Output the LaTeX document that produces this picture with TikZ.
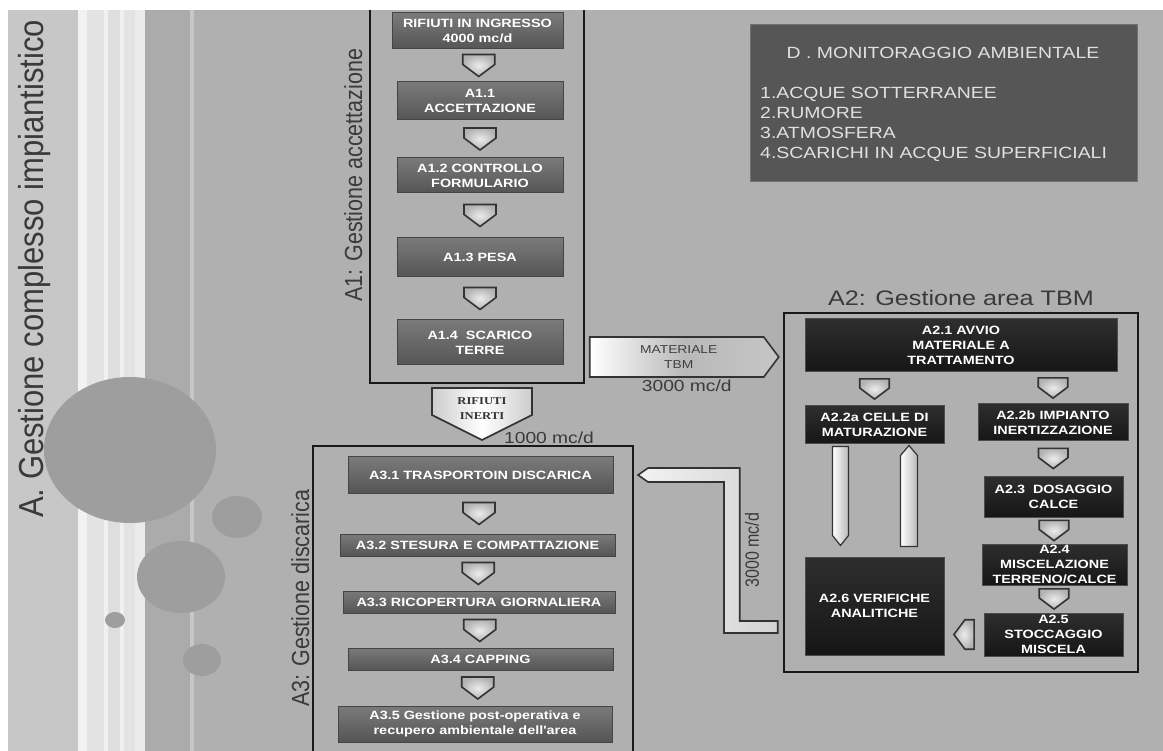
\documentclass[tikz,border=0pt]{standalone}
\usepackage{graphicx}
\usepackage{fontspec}
\setmainfont{Liberation Sans}
\newfontfamily\wsans{Liberation Sans}[FakeStretch=1.2]
\newfontfamily\wserif{Liberation Serif}[FakeStretch=1.2]
\usetikzlibrary{calc}

\definecolor{sfondo}{HTML}{B0B0B0}
\definecolor{bolla}{HTML}{9E9E9E}
\definecolor{fasealto}{HTML}{7A7A7A}
\definecolor{fasebasso}{HTML}{555555}
\definecolor{bordo}{HTML}{454545}
\definecolor{neroalto}{HTML}{2E2E2E}
\definecolor{nerobasso}{HTML}{161616}
\definecolor{scritta}{HTML}{3A3A3A}
\definecolor{monit}{HTML}{565656}

\begin{document}
\begin{tikzpicture}[x=1pt,y=-1pt,
  fase/.style={draw=bordo, line width=1pt, top color=fasealto, bottom color=fasebasso,
    text=white, align=center, inner sep=0pt, font=\fontsize{12}{15}\wsans\bfseries},
  fasenera/.style={fase, draw=black!70, top color=neroalto, bottom color=nerobasso},
  gruppo/.style={draw=black!90, line width=2.5pt},
  etich/.style={text=scritta, font=\fontsize{21.5}{24}\selectfont, rotate=90, anchor=base west, inner sep=0pt},
  qta/.style={text=scritta, font=\fontsize{16}{18}\wsans, inner sep=0pt},
  blocco/.style={draw=black!80, line width=1.6pt, left color=white, right color=gray!45},
  lunga/.style={draw=black!80, line width=1.2pt, left color=white, right color=gray!55},
  chev/.pic={\draw[draw=black!80, line width=1.6pt, inner color=white!85!gray, outer color=gray!60]
    (-16,-11) -- (16,-11) -- (16,-1) -- (0,11) -- (-16,-1) -- cycle;}
]
\useasboundingbox (0,0) rectangle (1163,751);
% fondo e fasce a sinistra
\fill[white] (0,0) rectangle (1163,751);
\fill[sfondo] (8,10) rectangle (1163,751);
\fill[white!78!black] (8,10) rectangle (78,751);
\foreach \a/\b/\c in {78/87/95, 87/104/89, 104/108/94, 108/120/87, 120/124/94, 124/135/89, 135/145/92}
  \fill[white!\c!black] (\a,10) rectangle (\b,751);
\fill[white!67!black] (145,10) rectangle (190,751);
\fill[white!78!black] (190,10) rectangle (194,751);
% bolle
\fill[bolla] (130,450) ellipse [x radius=86, y radius=73];
\fill[bolla] (237,517) ellipse [x radius=25, y radius=21];
\fill[bolla] (181,577) ellipse [x radius=44, y radius=36];
\fill[bolla] (115,620) ellipse [x radius=10, y radius=8];
\fill[bolla] (202,660) ellipse [x radius=19, y radius=16];
\node[etich, font=\fontsize{31}{34}\selectfont] (titolo) at (43,518)
  {\scalebox{1}[1.12]{A. Gestione complesso impiantistico}};

% A1
\draw[gruppo] (370,10) -- (370,383) -- (584,383) -- (584,10);
\node[etich] (lblA1) at (362,302) {\scalebox{1}[1.15]{A1: Gestione accettazione}};
\node[fase, minimum width=171, minimum height=36] (r0) at (477.5,31) {RIFIUTI IN INGRESSO\\4000 mc/d};
\node[fase, minimum width=166, minimum height=38] (a11) at (480,101) {A1.1\\ACCETTAZIONE};
\node[fase, minimum width=166, minimum height=35] (a12) at (480,175.5) {A1.2 CONTROLLO\\FORMULARIO};
\node[fase, minimum width=166, minimum height=39] (a13) at (480,257.5) {A1.3 PESA};
\node[fase, minimum width=166, minimum height=45] (a14) at (480,342.5) {A1.4~ SCARICO\\TERRE};
\foreach \a/\b in {r0/a11, a11/a12, a12/a13, a13/a14}
  \pic at ($(\a.south)!.5!(\b.north)$) {chev};

% A3
\draw[gruppo] (313,751) -- (313,446) coordinate (A3nw) -- (633,446) coordinate (A3ne) -- (633,751);
\node[etich] (lblA3) at (309,707) {\scalebox{1}[1.15]{A3: Gestione discarica}};
\node[fase, minimum width=265, minimum height=36] (a31) at (480.5,475) {A3.1 TRASPORTOIN DISCARICA};
\node[fase, minimum width=275, minimum height=22] (a32) at (477.5,545) {A3.2 STESURA E COMPATTAZIONE};
\node[fase, minimum width=272, minimum height=22] (a33) at (479,602) {A3.3 RICOPERTURA GIORNALIERA};
\node[fase, minimum width=265, minimum height=22] (a34) at (480.5,659) {A3.4 CAPPING};
\node[fase, minimum width=274, minimum height=36] (a35) at (475,724) {A3.5 Gestione post-operativa e\\recupero ambientale dell'area};
\foreach \a/\b in {a31/a32, a32/a33, a33/a34, a34/a35}
  \pic at ($(\a.south)!.5!(\b.north)$) {chev};

% rifiuti inerti verso A3
\coordinate (rtip) at ($(A3nw -| a31)+(1.5,-6)$);
\draw[blocco, left color=gray!40, right color=gray!40, middle color=white]
  (rtip) -- ++(50,-25) -- ++(0,-27) -- ++(-100,0) -- ++(0,27) -- cycle;
\node[font=\fontsize{10.5}{15}\wserif\bfseries, text=black!80, align=center] (ri) at ($(rtip)+(0,-31)$) {RIFIUTI\\INERTI};
\node[qta] (q2) at ($(rtip)+(67,-2)$) {1000 mc/d};

% A2
\node[text=scritta, font=\fontsize{21}{24}\wsans] (lblA2) at (961,298) {A2: Gestione area TBM};
\node[gruppo, minimum width=354, minimum height=359, inner sep=0pt] (boxA2) at (961,492.5) {};
\node[fasenera, minimum width=312, minimum height=53] (a21) at (961,345.5) {A2.1 AVVIO\\MATERIALE A\\TRATTAMENTO};
\node[fasenera, minimum width=139, minimum height=38] (a22a) at (874.5,425) {A2.2a CELLE DI\\MATURAZIONE};
\node[fasenera, minimum width=150, minimum height=37] (a22b) at (1053,422.5) {A2.2b IMPIANTO\\INERTIZZAZIONE};
\node[fasenera, minimum width=139, minimum height=41] (a23) at (1053.5,496.5) {A2.3~ DOSAGGIO\\CALCE};
\node[fasenera, minimum width=145, minimum height=41] (a24) at (1054.5,564.5) {A2.4\\MISCELAZIONE\\TERRENO/CALCE};
\node[fasenera, minimum width=139, minimum height=43] (a25) at (1053.5,634.5) {A2.5\\STOCCAGGIO\\MISCELA};
\node[fasenera, minimum width=139, minimum height=98] (a26) at (874.5,606) {A2.6 VERIFICHE\\ANALITICHE};
\pic[scale=.92] at ($(a21.south -| a22a.north)!.5!(a22a.north)$) {chev};
\pic[scale=.92] at ($(a21.south -| a22b.north)!.5!(a22b.north)$) {chev};
\foreach \a/\b in {a22b/a23, a23/a24, a24/a25}
  \pic[scale=.92] at ($(\a.south)!.5!(\b.north)$) {chev};
\pic[rotate=-90, scale=.92] at ($(a25.west)!.5!(a26.east |- a25.west)$) {chev};
\draw[lunga] ($(a22a.south)+(-42,2)$) -- ++(16,0) -- ++(0,89) -- ++(-8,10) -- ++(-8,-10) -- cycle;
\draw[lunga] ($(a26.north)+(26,-10)$) -- ++(17,0) -- ++(0,-91) -- ++(-8.5,-10) -- ++(-8.5,10) -- cycle;

% materiale TBM verso A2
\coordinate (mtip) at ($(boxA2.west |- a21)+(-4,11.5)$);
\draw[blocco, middle color=gray!55] (mtip) -- ++(-15,-20) -- ++(-174,0) -- ++(0,40) -- ++(174,0) -- cycle;
\node[font=\fontsize{11.5}{15}\wsans, text=black!75, align=center] (mat) at ($(mtip)+(-100,0)$) {MATERIALE\\TBM};
\node[qta] (q1) at ($(mtip)+(-92,29)$) {3000 mc/d};

% ritorno da A2 verso A3
\coordinate (Ltip) at ($(A3ne |- a31)+(5,0)$);
\coordinate (Lend) at ($(boxA2.west)+(-5,134.5)$);
\draw[blocco, left color=white!90!gray, right color=gray!35]
  (Ltip) -- ++(10,-7) -| ($(Lend)+(-38,-6)$) -- ($(Lend)+(0,-6)$) -- ($(Lend)+(0,6)$)
  -| ($(Ltip)+(86,7)$) -- ++(-76,0) -- cycle;
\node[text=scritta, font=\fontsize{16}{18}\selectfont, rotate=90, inner sep=0pt] (q3) at (752,550)
  {\scalebox{1}[1.2]{3000 mc/d}};

% D
\node[draw=black!55, line width=1pt, fill=monit, minimum width=387, minimum height=157] (dbox) at (943.5,103.5) {};
\node[anchor=base, text=white!88!black, font=\fontsize{16.2}{20}\wsans, inner sep=0pt] (dtit) at (943,59) {D . MONITORAGGIO AMBIENTALE};
\foreach \i/\t in {0/1.ACQUE SOTTERRANEE, 1/2.RUMORE, 2/3.ATMOSFERA, 3/4.SCARICHI IN ACQUE SUPERFICIALI}
  \node[anchor=base west, text=white!88!black, font=\fontsize{16.2}{20}\wsans, inner sep=0pt] (d\i) at (760,99+20*\i) {\t};
\end{tikzpicture}
\end{document}
